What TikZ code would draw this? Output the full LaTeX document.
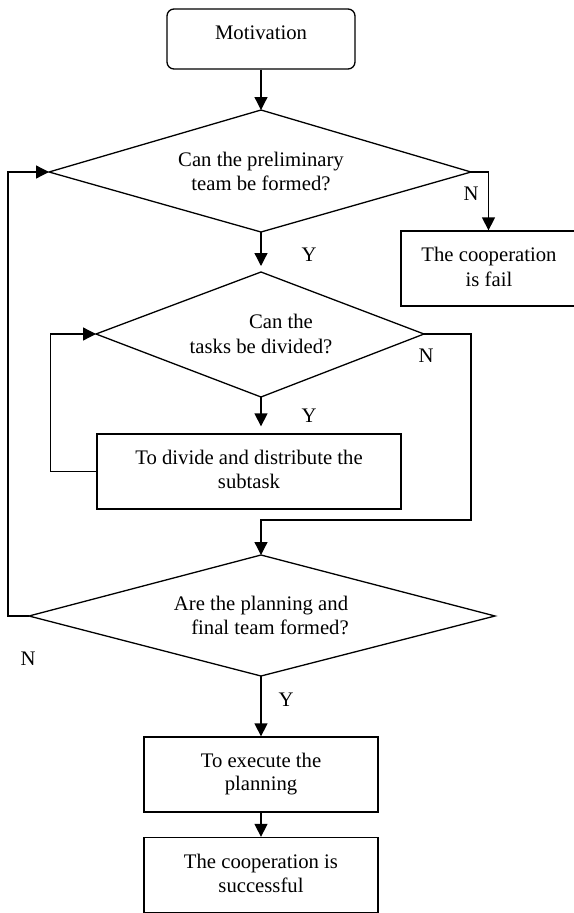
\documentclass[tikz,border=0pt]{standalone}
\usepackage{fontspec}
\setmainfont{Liberation Serif}
\usetikzlibrary{arrows.meta}
\begin{document}
\begin{tikzpicture}[x=1pt,y=-1pt,
  line width=1.3pt,
  arr/.style={-{Triangle[length=13pt,width=13pt]}},
  boxnode/.style={draw,minimum width=#1,minimum height=75pt,inner sep=0pt},
  txt/.style={anchor=base,inner sep=0pt,font=\fontsize{20.7}{24}\selectfont}]
\useasboundingbox (0,0) rectangle (573,913);
% shapes
\node[draw,rounded corners=7pt,minimum width=188pt,minimum height=60pt,inner sep=0pt] (mot) at (261,39) {};
\coordinate (d1t) at (261,110); \coordinate (d1l) at (49,172);
\coordinate (d1r) at (471,172); \coordinate (d1b) at (261,232);
\draw (d1t) -- (d1r) -- (d1b) -- (d1l) -- cycle;
\node[boxnode=175pt] (fail) at (488.5,268.5) {};
\coordinate (d2t) at (261,272); \coordinate (d2l) at (96,334);
\coordinate (d2r) at (424,334); \coordinate (d2b) at (261,397);
\draw (d2t) -- (d2r) -- (d2b) -- (d2l) -- cycle;
\node[boxnode=304pt] (sub) at (249,471.5) {};
\coordinate (d3t) at (261,555); \coordinate (d3l) at (29,616);
\coordinate (d3r) at (495,616); \coordinate (d3b) at (261,676);
\draw (d3t) -- (d3r) -- (d3b) -- (d3l) -- cycle;
\node[boxnode=234pt] (exe) at (261,774.5) {};
\node[boxnode=234pt] (suc) at (261,875) {};
% texts
\node[txt] (tmot) at (261,39) {Motivation};
\node[txt] (td1a) at (261,166) {Can the preliminary};
\node[txt] (td1b) at (261,190) {team be formed?};
\node[txt] (tfa) at (489,261) {The cooperation};
\node[txt] (tfb) at (489,286) {is fail};
\node[txt] (td2a) at (281,328) {Can the};
\node[txt] (td2b) at (261,353) {tasks be divided?};
\node[txt] (tsa) at (249,464) {To divide and distribute the};
\node[txt] (tsb) at (249,488) {subtask};
\node[txt] (td3a) at (261,610) {Are the planning and};
\node[txt] (td3b) at (270,634) {final team formed?};
\node[txt] (tea) at (261,767) {To execute the};
\node[txt] (teb) at (261,790) {planning};
\node[txt] (tca) at (261,868) {The cooperation is};
\node[txt] (tcb) at (261,892) {successful};
% labels
\node[txt] (n1) at (471,200) {N};
\node[txt] (y1) at (309,261) {Y};
\node[txt] (n2) at (426,362) {N};
\node[txt] (y2) at (309,422) {Y};
\node[txt] (n3) at (28,665) {N};
\node[txt] (y3) at (286,706) {Y};
% connectors
\draw[arr] (mot.south) -- (d1t);
\draw[arr] (d1r) -- (d1r -| fail.north) -- (fail.north);
\draw[arr,shorten >=6pt] (d1b) -- (d2t);
\draw[arr,shorten >=7pt] (d2b) -- (d2b |- sub.north);
\draw[arr] (sub.west) -- ++(-46,0) |- (d2l);
\draw[arr] (d2r) -- (471,334) -- (471,520) -| (d3t);
\draw[arr] (d3l) -- (8,616) |- (d1l);
\draw[arr] (d3b) -- (exe.north);
\draw[arr] (exe.south) -- (suc.north);
\end{tikzpicture}
\end{document}
